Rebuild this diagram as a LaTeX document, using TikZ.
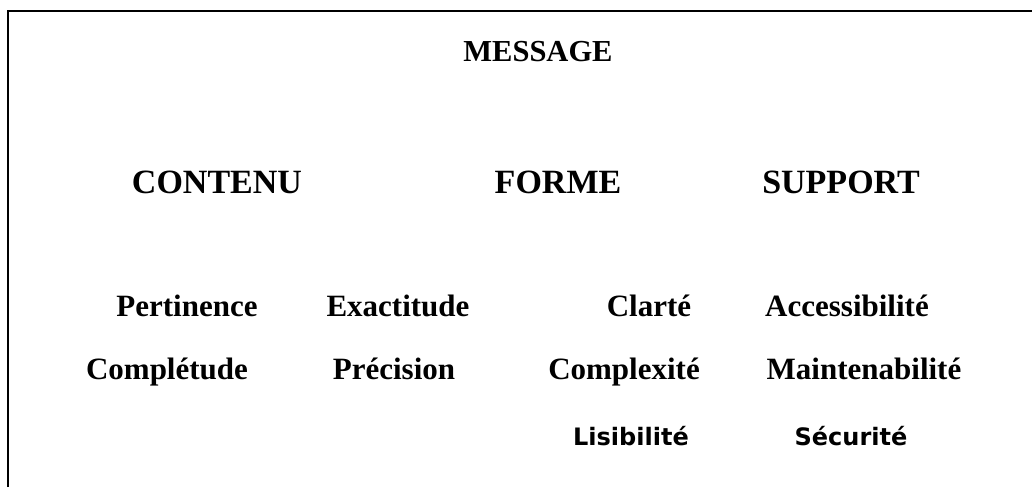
\documentclass[tikz,border=0pt]{standalone}
\usepackage{fontspec}
\setmainfont{Liberation Serif}
\newfontfamily\verdanalike{DejaVu Sans}
\begin{document}
\begin{tikzpicture}
			[x=1pt, y=-1pt, inner sep=0pt, anchor=base,
			 title/.style={font=\fontsize{30.5}{32}\selectfont\bfseries},
			 axis/.style={font=\fontsize{34}{36}\selectfont\bfseries},
			 crit/.style={font=\fontsize{31}{33}\selectfont\bfseries},
			 critsans/.style={font=\fontsize{24}{26}\selectfont\verdanalike\bfseries}]
			\useasboundingbox (0,0) rectangle (1032,487);
			\draw[line width=2pt] (8,487) -- (8,11) -- (1032,11);
			\node[title] (msg) at (538,62) {MESSAGE};
			\node[axis] (contenu) at (217,193) {CONTENU};
			\node[axis] (forme) at (558,193) {FORME};
			\node[axis] (support) at (841,193) {SUPPORT};
			\node[crit] (pert) at (187,316) {Pertinence};
			\node[crit] (exact) at (398,316) {Exactitude};
			\node[crit] (clarte) at (649,316) {Clarté};
			\node[crit] (access) at (847,316) {Accessibilité};
			\node[crit] (compl) at (167,379) {Complétude};
			\node[crit] (prec) at (394,379) {Précision};
			\node[crit] (complex) at (624,379) {Complexité};
			\node[crit] (maint) at (864,379) {Maintenabilité};
			\node[critsans] (lisib) at (631,445) {Lisibilité};
			\node[critsans] (secur) at (851,445) {Sécurité};
			\end{tikzpicture}
\end{document}
